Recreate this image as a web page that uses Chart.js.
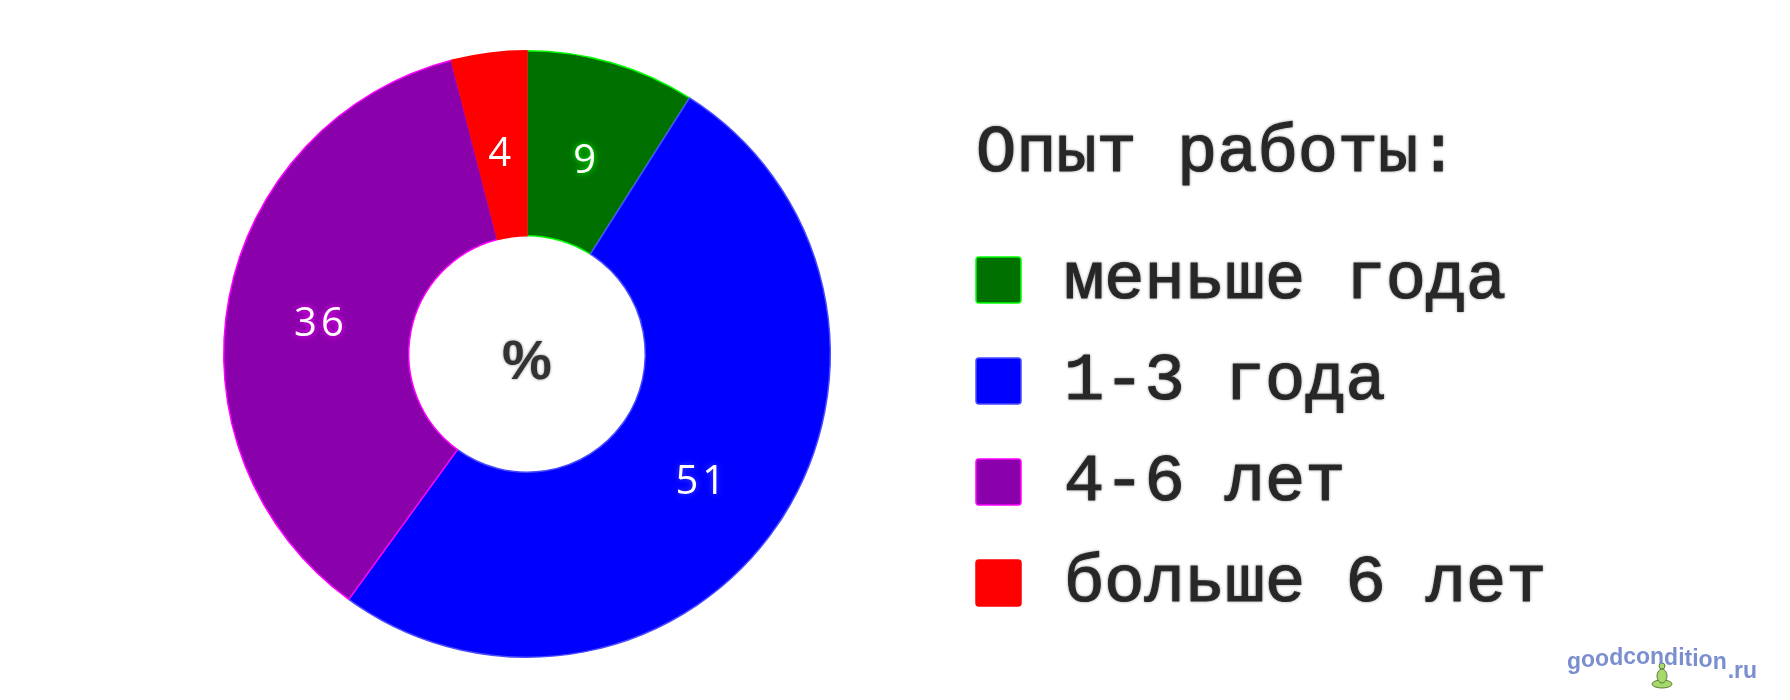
<!DOCTYPE html>
<html lang="ru">
<head>
<meta charset="utf-8">
<title>Опыт работы</title>
<script src="https://cdn.jsdelivr.net/npm/chart.js@4.4.1/dist/chart.umd.min.js"></script>
<style>
    html, body { margin: 0; padding: 0; background: #ffffff; }
    #chartContext { display: block; }
</style>
</head>
<body>
<canvas id="chartContext" width="1790" height="700"></canvas>
<script>
// Chart data: work experience, share of respondents in percent
const categories = ["меньше года", "1-3 года", "4-6 лет", "больше 6 лет"];
const shares = [9, 51, 36, 4];
const fillColors = ["#007000", "#0000ff", "#8a00ab", "#ff0000"];
const edgeColors = ["#00ff00", "#4a4aff", "#ff00ff", "#ff0000"];
const legendTitle = "Опыт работы:";
const centerLabel = "%";
const watermark = "goodcondition";
const watermarkTail = ".ru";

// Legend geometry (right hand side of the picture)
const legendLeft = 976;
const legendTextLeft = 1064;
const legendTitleY = 153;
const legendFirstRowY = 280;
const legendRowGap = 101;
const legendFont = '67px "Liberation Mono", "DejaVu Sans Mono", monospace';

/**
 * Draws the value of every slice in the middle of its ring segment
 */
const sliceLabels = {
    id: "sliceLabels",
    afterDatasetsDraw(chart) {
        const ctx = chart.ctx;
        const meta = chart.getDatasetMeta(0);
        ctx.save();
        ctx.font = '40px "Open Sans", "Noto Sans", sans-serif';
        ctx.letterSpacing = "4px";
        ctx.textAlign = "center";
        ctx.textBaseline = "middle";
        meta.data.forEach((arc, i) => {
            const pos = arc.tooltipPosition();
            ctx.shadowColor = edgeColors[i];
            ctx.shadowBlur = 6;
            ctx.fillStyle = "#ffffff";
            ctx.fillText(String(shares[i]), pos.x + 1, pos.y + 10);
        });

        // Percent sign in the hole of the doughnut
        const first = meta.data[0];
        ctx.letterSpacing = "0px";
        ctx.font = 'bold 56px "Liberation Sans", sans-serif';
        ctx.shadowColor = "rgba(0, 0, 0, 0.45)";
        ctx.shadowBlur = 3;
        ctx.fillStyle = "#333333";
        ctx.fillText(centerLabel, first.x, first.y + 10);
        ctx.restore();
    },
};

/**
 * Draws the legend with a title and one square per category
 */
const sideLegend = {
    id: "sideLegend",
    afterDraw(chart) {
        const ctx = chart.ctx;
        ctx.save();
        ctx.textAlign = "left";
        ctx.textBaseline = "middle";
        ctx.font = legendFont;
        ctx.fillStyle = "#2a2a2a";
        ctx.strokeStyle = "#2a2a2a";
        ctx.lineWidth = 1.2;
        ctx.shadowColor = "rgba(0, 0, 0, 0.35)";
        ctx.shadowBlur = 3;
        ctx.fillText(legendTitle, legendLeft, legendTitleY);
        ctx.strokeText(legendTitle, legendLeft, legendTitleY);

        categories.forEach((name, i) => {
            const y = legendFirstRowY + i * legendRowGap;
            // Coloured box
            ctx.shadowBlur = 0;
            ctx.beginPath();
            ctx.roundRect(legendLeft, y - 23, 45, 46, 3);
            ctx.fillStyle = fillColors[i];
            ctx.fill();
            ctx.lineWidth = 1.5;
            ctx.strokeStyle = edgeColors[i];
            ctx.stroke();
            // Category name
            ctx.shadowBlur = 3;
            ctx.fillStyle = "#2a2a2a";
            ctx.strokeStyle = "#2a2a2a";
            ctx.lineWidth = 1.2;
            ctx.fillText(name, legendTextLeft, y);
            ctx.strokeText(name, legendTextLeft, y);
        });
        ctx.restore();
    },
};

/**
 * Draws the site signature in the lower right corner, letters laid on a small arc
 */
const signature = {
    id: "signature",
    afterDraw(chart) {
        const ctx = chart.ctx;
        ctx.save();
        // Small green figure under the word
        ctx.fillStyle = "#a6d86a";
        ctx.strokeStyle = "#5c7d3a";
        ctx.lineWidth = 1;
        ctx.beginPath();
        ctx.ellipse(1662, 684, 10, 4, 0, 0, Math.PI * 2);
        ctx.fill();
        ctx.stroke();
        ctx.beginPath();
        ctx.ellipse(1662, 676, 5, 7, 0, 0, Math.PI * 2);
        ctx.fill();
        ctx.stroke();
        ctx.beginPath();
        ctx.arc(1662, 666, 3, 0, Math.PI * 2);
        ctx.fill();
        ctx.stroke();

        ctx.font = 'bold 23px "Liberation Sans", sans-serif';
        ctx.fillStyle = "#7b8fd0";
        ctx.textBaseline = "alphabetic";
        let x = 1567;
        const mid = 1567 + ctx.measureText(watermark).width / 2;
        for (const ch of watermark) {
            const w = ctx.measureText(ch).width;
            const dx = x + w / 2 - mid;
            ctx.fillText(ch, x, 664 + dx * dx * 0.0010);
            x += w;
        }
        ctx.fillText(watermarkTail, x + 1, 678);
        ctx.restore();
    },
};

const context = document.getElementById("chartContext");

new Chart(context, {
    type: "doughnut",
    data: {
        labels: categories,
        datasets: [
            {
                data: shares,
                backgroundColor: fillColors,
                borderColor: edgeColors,
                borderWidth: 1.5,
                hoverOffset: 0,
                offset: 0,
            },
        ],
    },
    options: {
        responsive: false,
        devicePixelRatio: 1,
        animation: false,
        events: [],
        cutout: "39%",
        layout: {
            padding: { top: 50, bottom: 42, left: 0, right: 736 },
        },
        plugins: {
            legend: { display: false },
            tooltip: { enabled: false },
        },
    },
    plugins: [sliceLabels, sideLegend, signature],
});
</script>
</body>
</html>
